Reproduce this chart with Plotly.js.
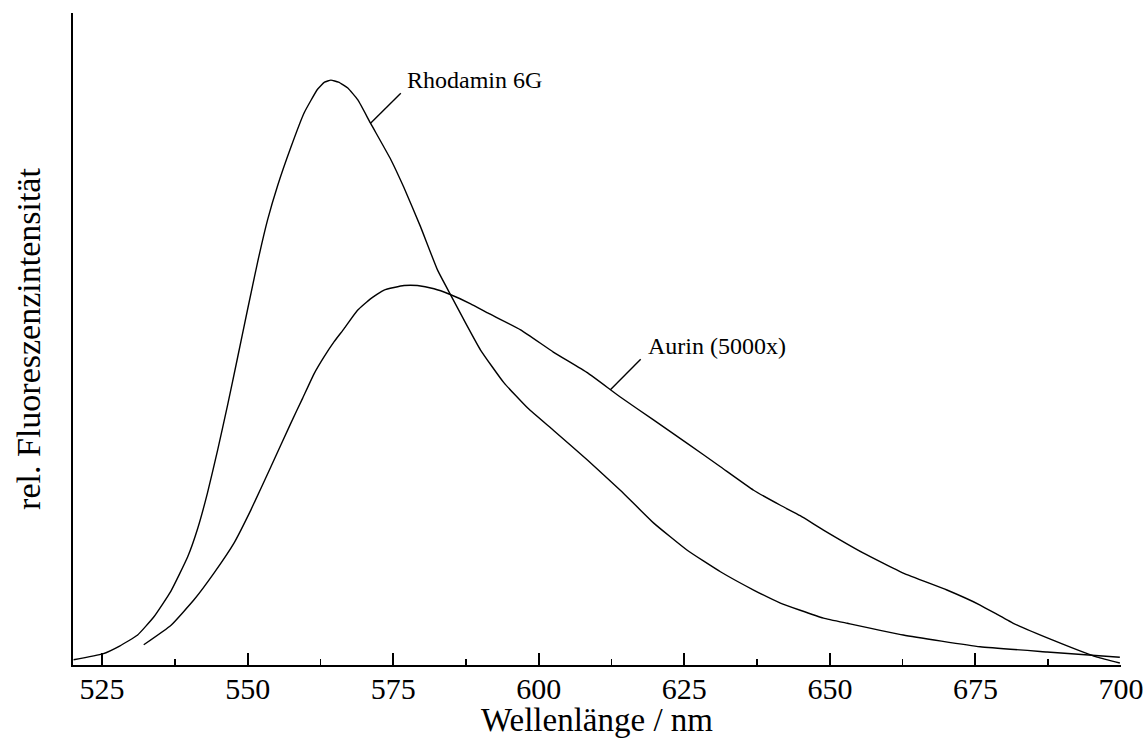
<!DOCTYPE html>
<html>
<head>
<meta charset="utf-8">
<script src="https://cdn.plot.ly/plotly-3.0.1.min.js"></script>
<style>
  html, body { margin: 0; padding: 0; background: #fff; }
  #chart { width: 1147px; height: 738px; }
</style>
</head>
<body>
<div id="chart"></div>
<script>
// Fluorescence emission spectra (relative intensity, arbitrary units)
const rhodaminWavelength = [520.1, 525.1, 528.0, 531.1, 533.9, 536.8, 539.7, 541.4, 543.1, 544.85, 546.56,
  548.28, 550.0, 551.71, 553.43, 555.14, 557.42, 559.71, 562.0, 563.2, 564.3, 565.6, 567.2, 568.9,
  571.1, 574.6, 576.8, 579.7, 582.6, 584.9, 587.1, 590.0, 594.0, 598.1, 602.5, 608.4, 614.0, 619.7,
  625.5, 631.2, 636.9, 641.5, 644.9, 648.9, 653.0, 662.6, 675.8, 687.3, 699.8];
const rhodaminIntensity = [0.8, 1.7, 2.9, 4.6, 7.4, 11.3, 16.6, 20.9, 26.4, 33.0, 39.9,
  47.2, 54.6, 61.8, 68.3, 73.5, 79.4, 84.7, 88.3, 89.4, 89.7, 89.4, 88.5, 86.7,
  83.1, 77.5, 73.3, 67.2, 60.6, 56.7, 53.0, 48.3, 43.3, 39.4, 36.0, 31.4, 26.8, 21.8,
  17.6, 14.3, 11.5, 9.5, 8.4, 7.2, 6.4, 4.6, 2.8, 2.0, 1.2];

const aurinWavelength = [532.15, 536.84, 540.78, 544.21, 547.65, 550.56, 553.99, 557.42, 559.43,
  561.42, 563.14, 564.85, 566.57, 568.87, 571.15, 573.43, 576.86, 579.16, 582.01, 584.58, 588.3,
  591.22, 596.88, 602.5, 608.4, 614.0, 619.7, 625.5, 631.2, 636.9, 641.5, 644.9, 648.9, 655.7,
  662.6, 670.1, 675.8, 681.5, 688.3, 695.9, 699.8];
const aurinIntensity = [3.1, 6.1, 10.0, 14.1, 18.7, 23.8, 30.4, 37.1, 40.9,
  44.7, 47.3, 49.6, 51.6, 54.4, 56.2, 57.5, 58.2, 58.2, 57.7, 56.9, 55.4,
  54.0, 51.4, 48.0, 44.8, 41.1, 37.6, 34.0, 30.4, 26.8, 24.5, 22.9, 20.7, 17.2,
  14.1, 11.5, 9.2, 6.4, 3.8, 1.2, 0.3];

// Curve labels: text anchor point and the leader line to the curve
const labelTexts = ['Rhodamin 6G', 'Aurin (5000x)'];
const labelAnchorX = [577.0, 618.5];
const labelAnchorY = [89.7, 48.9];
const leaderStartX = [576.3, 617.5];
const leaderStartY = [87.7, 46.9];
const leaderEndX = [571.1, 612.3];
const leaderEndY = [83.1, 42.2];

const tickValues = [525, 550, 575, 600, 625, 650, 675, 700];

const serif = 'Liberation Serif, Times New Roman, serif';
const lineStyle = { color: '#000', width: 1.4, shape: 'spline', smoothing: 0.4 };

const traces = [
  { x: rhodaminWavelength, y: rhodaminIntensity, type: 'scatter', mode: 'lines',
    name: labelTexts[0], line: lineStyle, hoverinfo: 'x+y' },
  { x: aurinWavelength, y: aurinIntensity, type: 'scatter', mode: 'lines',
    name: labelTexts[1], line: lineStyle, hoverinfo: 'x+y' }
];

const annotations = labelTexts.map((t, i) => ({
  x: labelAnchorX[i], y: labelAnchorY[i], xref: 'x', yref: 'y',
  text: t, showarrow: false, xanchor: 'left', yanchor: 'middle',
  font: { family: serif, size: 24, color: '#000' }
}));

const shapes = labelTexts.map((t, i) => ({
  type: 'line', xref: 'x', yref: 'y',
  x0: leaderStartX[i], y0: leaderStartY[i], x1: leaderEndX[i], y1: leaderEndY[i],
  line: { color: '#000', width: 1.4 }
}));

const layout = {
  width: 1147, height: 738,
  margin: { l: 73, r: 26, t: 13, b: 73, autoexpand: false },
  paper_bgcolor: '#fff', plot_bgcolor: '#fff',
  showlegend: false,
  font: { family: serif, color: '#000' },
  xaxis: {
    range: [520, 700], autorange: false,
    tickmode: 'array', tickvals: tickValues, ticktext: tickValues.map(String),
    ticks: 'inside', ticklen: 12, tickwidth: 2, tickcolor: '#000',
    ticklabelstandoff: -4,
    minor: { ticks: 'inside', ticklen: 6, tickwidth: 1.5, tickcolor: '#000',
             tickmode: 'linear', tick0: 537.5, dtick: 25, showgrid: false },
    tickfont: { family: serif, size: 30, color: '#000' },
    showline: true, linecolor: '#000', linewidth: 2, mirror: false,
    showgrid: false, zeroline: false, automargin: false,
    title: { text: 'Wellenlänge / nm', font: { family: serif, size: 33, color: '#000' }, standoff: 0 }
  },
  yaxis: {
    range: [0, 100], autorange: false,
    showticklabels: false, ticks: '',
    showline: true, linecolor: '#000', linewidth: 2,
    showgrid: false, zeroline: false, automargin: false,
    title: { text: 'rel. Fluoreszenzintensität', font: { family: serif, size: 34, color: '#000' }, standoff: 20 }
  },
  annotations: annotations,
  shapes: shapes
};

Plotly.newPlot('chart', traces, layout, { displayModeBar: false, staticPlot: true });
</script>
</body>
</html>
